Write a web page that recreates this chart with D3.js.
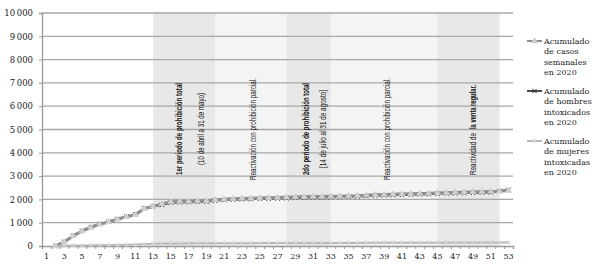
<!DOCTYPE html>
<html>
<head>
<meta charset="utf-8">
<script src="https://cdn.jsdelivr.net/npm/d3@7"></script>
<style>
  body { margin: 0; background: #fff; }
  svg { display: block; }
</style>
</head>
<body>
<svg id="chart" width="600" height="276"></svg>
<script>
/*
Data
*/
var weeks = d3.range(2, 54);
var casosTotal = [0, 170, 430, 640, 800, 930, 1030, 1150, 1250, 1340, 1600, 1700,
  1800, 1900, 1910, 1920, 1930, 1940, 1980, 2010, 2030, 2040, 2050, 2060, 2070,
  2080, 2090, 2100, 2110, 2120, 2120, 2130, 2140, 2150, 2160, 2180, 2200, 2210,
  2220, 2230, 2240, 2250, 2260, 2280, 2290, 2300, 2310, 2320, 2330, 2340, 2350, 2380];
var hombres = [0, 180, 445, 655, 815, 945, 1045, 1165, 1265, 1355, 1610, 1690,
  1760, 1860, 1870, 1880, 1890, 1900, 1940, 1970, 1990, 2000, 2010, 2020, 2030,
  2040, 2050, 2060, 2070, 2080, 2080, 2090, 2100, 2110, 2120, 2140, 2160, 2170,
  2180, 2190, 2200, 2210, 2220, 2240, 2250, 2260, 2270, 2280, 2290, 2300, 2360, 2410];
var mujeres = [0, 10, 20, 25, 30, 35, 40, 45, 55, 65, 80, 95,
  105, 110, 112, 114, 115, 116, 118, 120, 121, 122, 123, 124, 125,
  126, 127, 128, 129, 130, 130, 131, 132, 133, 134, 135, 136, 137,
  138, 139, 140, 141, 142, 143, 144, 145, 146, 147, 148, 149, 150, 152];
var yTicks = [0, 1000, 2000, 3000, 4000, 5000, 6000, 7000, 8000, 9000, 10000];
var xLabels = d3.range(1, 54, 2);
var bandWeeks = [[13, 20], [20, 28], [28, 33], [33, 45], [45, 52]];
var legendLabels = [
  ["Acumulado", "de casos", "semanales", "en 2020"],
  ["Acumulado", "de hombres", "intoxicados", "en 2020"],
  ["Acumulado", "de mujeres", "intoxicadas", "en 2020"]
];
var notes = [
  {text: "1er periodo de prohibición total", bold: true, wk: 15.9, end: 175, len: 92},
  {text: "(10  de abril a 31 de mayo)", bold: false, wk: 18.3, end: 165, len: 72},
  {text: "Reactivación con prohibición parcial.", bold: false, wk: 24.2, end: 180, len: 102},
  {text: "2do periodo de prohibición total", bold: true, wk: 30.1, end: 175, len: 92},
  {text: "[14 de julio al 31 de agosto]", bold: false, wk: 32.1, end: 168, len: 78},
  {text: "Reactivación con prohibición parcial.", bold: false, wk: 39.3, end: 180, len: 102},
  {text: "Reactividad de", bold: false, wk: 48.9, end: 175, len: 42},
  {text: "la venta regular.", bold: true, wk: 48.9, end: 129, len: 44}
];

/*
Scales
*/
var plotL = 42, plotR = 513, plotT = 13, plotB = 246;
var x = d3.scaleLinear().domain([0.5, 53.5]).range([plotL, plotR]);
var y = d3.scaleLinear().domain([0, 10000]).range([plotB, plotT]);

var svg = d3.select("#chart");
var serif = "'DejaVu Serif', serif";
var narrow = "'Liberation Sans Narrow', 'Arial Narrow', 'Liberation Sans', sans-serif";

// shaded periods
svg.selectAll("rect.band")
   .data(bandWeeks)
   .enter()
   .append("rect")
   .attr("class", "band")
   .attr("x", function(d){ return x(d[0]); })
   .attr("y", plotT)
   .attr("width", function(d){ return x(d[1]) - x(d[0]); })
   .attr("height", plotB - plotT)
   .style("fill", function(d, i){ return i % 2 == 0 ? "#e8e8e8" : "#f4f4f4"; });

// gridlines
svg.selectAll("line.grid")
   .data(yTicks.slice(1))
   .enter()
   .append("line")
   .attr("x1", plotL).attr("x2", plotR)
   .attr("y1", function(d){ return y(d); })
   .attr("y2", function(d){ return y(d); })
   .style("stroke", "#a8a8a8")
   .style("stroke-width", 1.3);

// y axis
var yAxis = svg.append("g")
   .attr("transform", "translate(" + plotL + ",0)")
   .call(d3.axisLeft(y).tickValues(yTicks).tickSize(3).tickPadding(6)
     .tickFormat(function(d){ return d3.format(",")(d).replace(/,/g, "\u2009"); }));
yAxis.select(".domain").style("stroke", "#999").style("stroke-width", 1.3);
yAxis.selectAll(".tick line").style("stroke", "#999");
yAxis.selectAll("text").style("font-family", serif).style("font-size", "8.5px").style("fill", "#222");

// x axis
var xAxis = svg.append("g")
   .attr("transform", "translate(0," + plotB + ")")
   .call(d3.axisBottom(x).tickValues(d3.range(0.5, 54, 1)).tickSize(3).tickFormat(""));
xAxis.select(".domain").style("stroke", "#999").style("stroke-width", 1.3);
xAxis.selectAll(".tick line").style("stroke", "#999");

svg.selectAll("text.xl")
   .data(xLabels)
   .enter()
   .append("text")
   .attr("class", "xl")
   .attr("x", function(d){ return x(d); })
   .attr("y", plotB + 13)
   .attr("text-anchor", "middle")
   .style("font-family", serif)
   .style("font-size", "8px")
   .style("fill", "#222")
   .text(function(d){ return d; });

// annotations
svg.selectAll("text.note")
   .data(notes)
   .enter()
   .append("text")
   .attr("class", "note")
   .attr("transform", function(d){ return "translate(" + x(d.wk) + "," + d.end + ") rotate(-90)"; })
   .attr("dominant-baseline", "central")
   .attr("textLength", function(d){ return d.len; })
   .attr("lengthAdjust", "spacingAndGlyphs")
   .style("font-family", narrow)
   .style("font-size", "9.5px")
   .style("font-weight", function(d){ return d.bold ? "bold" : "normal"; })
   .style("fill", "#111")
   .text(function(d){ return d.text; });

/*
Series
*/
var series = [
  {vals: hombres, color: "#4a4a4a", mark: "#2e2e2e", sym: d3.symbolX, w: 2},
  {vals: casosTotal, color: "#8e8e8e", mark: "#cfcfcf", sym: d3.symbolTriangle, w: 3},
  {vals: mujeres, color: "#b8b8b8", mark: "#d4d4d4", sym: d3.symbolAsterisk, w: 2}
];
var line = d3.line()
   .x(function(d){ return x(d[0]); })
   .y(function(d){ return y(d[1]); });

series.forEach(function(s){
  var pts = weeks.map(function(w, i){ return [w, s.vals[i]]; });
  svg.append("path")
     .datum(pts)
     .attr("d", line)
     .style("fill", "none")
     .style("stroke", s.color)
     .style("stroke-width", s.w);
  svg.selectAll(null)
     .data(pts)
     .enter()
     .append("path")
     .attr("transform", function(d){ return "translate(" + x(d[0]) + "," + y(d[1]) + ")"; })
     .attr("d", d3.symbol().type(s.sym).size(14))
     .style("fill", s.sym == d3.symbolTriangle ? s.mark : "none")
     .style("stroke", s.mark)
     .style("stroke-width", 1);
});

/*
Legend
*/
var legendOrder = [series[1], series[0], series[2]];
var leg = svg.selectAll("g.leg")
   .data(legendLabels)
   .enter()
   .append("g")
   .attr("class", "leg")
   .attr("transform", function(d, i){ return "translate(527," + (41 + i * 50) + ")"; });

leg.append("line")
   .attr("x1", 0).attr("x2", 15)
   .style("stroke", function(d, i){ return legendOrder[i].color; })
   .style("stroke-width", 2);
leg.append("path")
   .attr("transform", "translate(7.5,0)")
   .attr("d", function(d, i){ return d3.symbol().type(legendOrder[i].sym).size(14)(); })
   .style("fill", function(d, i){ return legendOrder[i].sym == d3.symbolTriangle ? legendOrder[i].mark : "none"; })
   .style("stroke", function(d, i){ return legendOrder[i].mark; });

leg.selectAll("text")
   .data(function(d){ return d; })
   .enter()
   .append("text")
   .attr("x", 17)
   .attr("y", function(d, j){ return j * 10.6; })
   .attr("dominant-baseline", "central")
   .style("font-family", serif)
   .style("font-size", "8px")
   .style("fill", "#222")
   .text(function(d){ return d; });
</script>
</body>
</html>
